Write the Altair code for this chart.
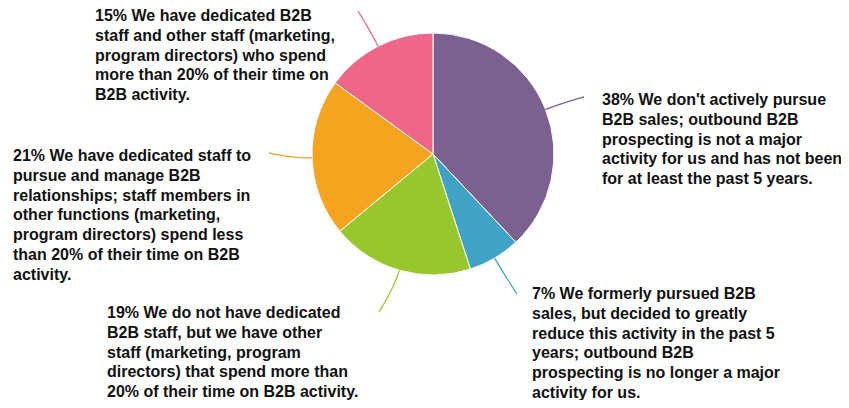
import math
import altair as alt
import pandas as pd

# ---- data ----
shares = [38, 7, 19, 21, 15]
colors = ["#7B6090", "#40A3C5", "#97C72A", "#F4A41E", "#EF6688"]
label_lines = [
    ["38% We don't actively pursue", "B2B sales; outbound B2B", "prospecting is not a major",
     "activity for us and has not been", "for at least the past 5 years."],
    ["7% We formerly pursued B2B", "sales, but decided to greatly", "reduce this activity in the past 5",
     "years; outbound B2B", "prospecting is no longer a major", "activity for us."],
    ["19% We do not have dedicated", "B2B staff, but we have other", "staff (marketing, program",
     "directors) that spend more than", "20% of their time on B2B activity."],
    ["21% We have dedicated staff to", "pursue and manage B2B", "relationships; staff members in",
     "other functions (marketing,", "program directors) spend less", "than 20% of their time on B2B",
     "activity."],
    ["15% We have dedicated B2B", "staff and other staff (marketing,", "program directors) who spend",
     "more than 20% of their time on", "B2B activity."],
]

# ---- layout (pixel positions inside the chart) ----
W, H = 833, 392
CX, CY, R = 425, 145, 121
label_pos = [(594, 83), (524, 277), (99, 296), (5, 139), (87, -1)]
leader_end = [(576, 88), (509, 285), (371, 303), (261, 144), (350, 2)]

n = len(shares)
pie = pd.DataFrame({"idx": list(range(n)), "share": shares,
                    "cat": [l[0].split(" ")[0] for l in label_lines]})

# leader lines start on pie edge at mid-angle of each slice
total = sum(shares)
rows = []
cum = 0
for i, s in enumerate(shares):
    mid = (cum + s / 2) / total * 2 * math.pi
    cum += s
    dx, dy = math.sin(mid), -math.cos(mid)
    x0, y0 = CX + R * dx, CY + R * dy
    cx, cy = CX + (R + 18) * dx, CY + (R + 18) * dy
    x2, y2 = leader_end[i]
    for k in range(11):
        t = k / 10
        x = (1 - t) ** 2 * x0 + 2 * (1 - t) * t * cx + t ** 2 * x2
        y = (1 - t) ** 2 * y0 + 2 * (1 - t) * t * cy + t ** 2 * y2
        rows.append({"cat": pie["cat"][i], "k": k, "px": x, "py": y})
leaders = pd.DataFrame(rows)

labels = pd.DataFrame({"cat": pie["cat"],
                       "px": [p[0] for p in label_pos],
                       "py": [p[1] for p in label_pos],
                       "txt": ["\n".join(l) for l in label_lines]})

color_scale = alt.Scale(domain=list(pie["cat"]), range=colors)

arcs = alt.Chart(pie).mark_arc(outerRadius=R, stroke="white", strokeWidth=1).encode(
    theta=alt.Theta("share:Q", stack=True),
    order=alt.Order("idx:Q"),
    color=alt.Color("cat:N", scale=color_scale, legend=None),
    x=alt.value(CX), y=alt.value(CY),
)

lines = alt.Chart(leaders).mark_line(strokeWidth=1.3).encode(
    x=alt.X("px:Q", scale=None), y=alt.Y("py:Q", scale=None),
    detail="cat:N", order="k:Q",
    color=alt.Color("cat:N", scale=color_scale, legend=None),
)

texts = alt.Chart(labels).mark_text(
    align="left", baseline="top", font="Liberation Sans", fontWeight="bold",
    fontSize=16, lineHeight=19.8, lineBreak="\n", color="#111111",
).encode(x=alt.X("px:Q", scale=None), y=alt.Y("py:Q", scale=None), text="txt:N")

chart = alt.layer(arcs, lines, texts).properties(
    width=W, height=H, padding=0,
    autosize=alt.AutoSizeParams(type="fit", contains="padding"),
).configure_view(stroke=None)

chart.save("out.html", embed_options={"renderer": "svg", "actions": False})
